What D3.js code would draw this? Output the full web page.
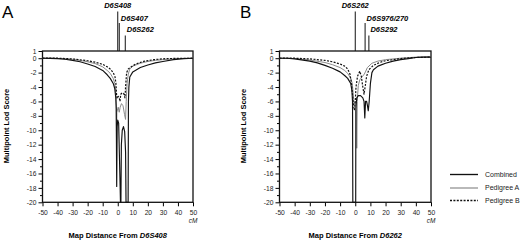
<!DOCTYPE html>
<html>
<head>
<meta charset="utf-8">
<script src="https://cdn.jsdelivr.net/npm/d3@7"></script>
<style>
  body { margin: 0; background: #fff; }
  svg { display: block; font-family: "Liberation Sans", Arial, sans-serif; }
  .axis path, .axis line { stroke: #000; }
  .axis text { fill: #222; font-size: 6.7px; }
</style>
</head>
<body>
<svg id="chart" width="520" height="240"></svg>
<script>
// [cM, lod] pairs
var combinedA = [[-50,0],[-45,-0.02],[-40,-0.05],[-35,-0.15],[-30,-0.3],[-25,-0.5],[-20,-0.8],[-15,-1.15],[-10,-1.7],[-7,-2.3],[-5,-2.8],[-3,-3.5],[-2,-4.2],[-1.3,-5.5],[-1,-7],[-0.7,-17.8],[-0.4,-9.5],[0,-8.6],[0.6,-9],[1.5,-17],[1.8,-20],[2.1,-20],[2.4,-12],[3,-10],[3.8,-9.5],[4.6,-10.2],[5.2,-13],[5.5,-20],[6.9,-20],[7.1,-6],[7.4,-4],[8,-2.6],[10,-1.9],[15,-1.3],[20,-0.95],[25,-0.65],[30,-0.45],[37,-0.2],[44,-0.05],[50,0]];
var pedAA = [[-50,0],[-40,-0.03],[-30,-0.15],[-25,-0.3],[-20,-0.5],[-15,-0.75],[-10,-1.2],[-7,-1.7],[-5,-2.1],[-3,-2.8],[-2,-3.5],[-1.3,-4.8],[-1,-6.5],[-0.8,-11.8],[-0.6,-7.5],[0.3,-6.8],[1,-7.5],[1.6,-6.8],[2.5,-6.3],[3.5,-6.6],[4.5,-7.8],[5.2,-8.5],[5.6,-6],[6.2,-3.5],[7,-2.2],[8,-1.5],[10,-1.1],[15,-0.7],[20,-0.45],[25,-0.3],[30,-0.2],[40,-0.05],[50,0]];
var pedBA = [[-50,0],[-40,0],[-30,-0.1],[-20,-0.35],[-15,-0.55],[-10,-0.85],[-7,-1.2],[-5,-1.5],[-3,-2],[-1.8,-2.6],[-1.2,-3.5],[-0.8,-5],[-0.4,-5.6],[0.3,-5.3],[1,-5.5],[1.5,-6],[2,-5],[3,-4.8],[4,-4.9],[4.8,-5.5],[5.2,-4],[5.9,-2],[7,-1.5],[9,-1.2],[12,-0.8],[17,-0.45],[24,-0.2],[32,-0.05],[50,0]];

var combinedB = [[-50,0],[-45,0],[-40,-0.1],[-30,-0.4],[-25,-0.65],[-20,-1],[-15,-1.4],[-10,-1.9],[-7,-2.4],[-5,-2.8],[-3,-3.5],[-2.2,-4.5],[-1.8,-6],[-1.6,-20],[0.3,-20],[0.4,-7],[1,-5.5],[2,-5.2],[3.5,-5.2],[5,-5.5],[5.8,-6],[6.3,-8.3],[6.8,-6],[7.5,-6],[8,-6.5],[8.6,-7.3],[9.2,-6],[10,-3.5],[11,-2],[12,-1.6],[15,-1.1],[20,-0.7],[25,-0.4],[30,-0.2],[35,-0.05],[40,0.1],[45,0.15],[50,0.15]];
var pedAB = [[-50,0],[-40,-0.05],[-30,-0.25],[-20,-0.6],[-15,-0.9],[-10,-1.3],[-7,-1.7],[-5,-2.1],[-3,-2.8],[-2,-3.5],[-1.3,-5],[-0.8,-6.5],[0,-6],[0.7,-7],[1,-12.5],[1.3,-6],[2,-3.8],[3,-3],[4.5,-2.6],[6,-2.2],[6.7,-1.9],[8,-1.3],[11,-0.7],[15,-0.4],[20,-0.2],[30,0],[40,0.15],[50,0.2]];
var pedBB = [[-50,0],[-40,0],[-30,-0.1],[-20,-0.3],[-15,-0.5],[-10,-0.8],[-7,-1.1],[-5,-1.5],[-3.5,-2.2],[-2.5,-3.5],[-1.8,-5],[-1.2,-6.5],[-0.6,-7.2],[0,-6],[0.5,-4],[1.5,-2.5],[3,-1.8],[4,-2.5],[5,-4],[5.8,-5],[6.5,-4],[7.5,-2.5],[9,-1.6],[12,-1],[16,-0.6],[20,-0.35],[30,-0.05],[40,0.1],[50,0.15]];

var markersA = [{name: "D6S408", pos: 0}, {name: "D6S407", pos: 1}, {name: "D6S262", pos: 5}];
var markersB = [{name: "D6S262", pos: 0}, {name: "D6S976/270", pos: 6.5}, {name: "D6S292", pos: 9}];

var xTicks = [-50, -40, -30, -20, -10, 0, 10, 20, 30, 40, 50];
var yTicks = [1, 0, -2, -4, -6, -8, -10, -12, -14, -16, -18, -20];
var yMinor = [-1, -3, -5, -7, -9, -11, -13, -15, -17, -19];
var legendNames = ["Combined", "Pedigree A", "Pedigree B"];

var styles = [
	{stroke: "#111", width: 1.15, dash: null},
	{stroke: "#8a8a8a", width: 1, dash: null},
	{stroke: "#111", width: 1.2, dash: "2,1.4"}
];

var svg = d3.select("#chart");

function drawPanel(opt) {
	var x = d3.scaleLinear().domain([-50, 50]).range([opt.left, opt.right]);
	var y = d3.scaleLinear().domain([-20, 1]).range([202.3, 51]);
	var g = svg.append("g");

	// panel letter
	g.append("text").attr("x", opt.letterX).attr("y", 18)
		.style("font-size", "17px").text(opt.letter);

	// marker lines and labels
	var labelY = [7.5, 20.5, 32];
	var lineTop = [11.5, 23, 35.5];
	opt.markers.forEach(function(m, i) {
		g.append("line")
			.attr("x1", x(m.pos)).attr("x2", x(m.pos))
			.attr("y1", lineTop[i]).attr("y2", y(1))
			.attr("stroke", "#111").attr("stroke-width", 1);
		g.append("text")
			.attr("x", i == 0 ? x(m.pos) : x(m.pos) + 1.5)
			.attr("y", labelY[i])
			.attr("text-anchor", i == 0 ? "middle" : "start")
			.style("font-size", "7.5px").style("font-weight", "bold").style("font-style", "italic")
			.text(m.name);
	});

	// axes
	var axisY = d3.axisLeft(y).tickValues(yTicks).tickSize(4).tickPadding(2)
		.tickFormat(function(d) { return String(d); });
	g.append("g").attr("class", "axis").attr("transform", "translate(" + opt.left + ",0)")
		.call(axisY);
	g.append("g").attr("class", "axis").attr("transform", "translate(" + opt.left + ",0)")
		.call(d3.axisLeft(y).tickValues(yMinor).tickSize(2.5).tickFormat(""));
	var axisX = d3.axisBottom(x).tickValues(xTicks).tickSize(4).tickPadding(3.5)
		.tickFormat(function(d) { return String(d); });
	g.append("g").attr("class", "axis").attr("transform", "translate(0,202.3)")
		.call(axisX);
	g.selectAll(".axis .domain").remove();

	// frame
	g.append("rect")
		.attr("x", opt.left).attr("y", y(1))
		.attr("width", opt.right - opt.left).attr("height", y(-20) - y(1))
		.attr("fill", "none").attr("stroke", "#111").attr("stroke-width", 1.3);

	// curves
	var line = d3.line()
		.x(function(d) { return x(d[0]); })
		.y(function(d) { return y(d[1]); });
	[opt.series[1], opt.series[2], opt.series[0]].forEach(function(s, k) {
		var st = styles[[1, 2, 0][k]];
		g.append("path")
			.attr("d", line(s))
			.attr("fill", "none")
			.attr("stroke", st.stroke)
			.attr("stroke-width", st.width)
			.attr("stroke-dasharray", st.dash)
			.attr("stroke-linejoin", "round");
	});

	// cM unit
	g.append("text").attr("x", x(50)).attr("y", 223).attr("text-anchor", "middle")
		.style("font-size", "6.5px").style("font-style", "italic").attr("fill", "#222").text("cM");

	// x title
	var t = g.append("text").attr("x", (opt.left + opt.right) / 2).attr("y", 237.5)
		.attr("text-anchor", "middle")
		.style("font-size", "7.5px").style("font-weight", "bold");
	t.append("tspan").text("Map Distance From ");
	t.append("tspan").style("font-style", "italic").text(opt.from);

	// y title
	g.append("text")
		.attr("transform", "translate(" + (opt.left - 34) + ",126) rotate(-90)")
		.attr("text-anchor", "middle")
		.style("font-size", "7.5px").style("font-weight", "bold")
		.text("Multipoint Lod Score");
}

drawPanel({letter: "A", letterX: 2, left: 42.5, right: 193, markers: markersA,
	series: [combinedA, pedAA, pedBA], from: "D6S408"});
drawPanel({letter: "B", letterX: 240, left: 279.5, right: 431, markers: markersB,
	series: [combinedB, pedAB, pedBB], from: "D6262"});

// legend
var legendY = [174.5, 188, 200.5];
legendNames.forEach(function(name, i) {
	var st = styles[i];
	svg.append("line")
		.attr("x1", 450).attr("x2", 478)
		.attr("y1", legendY[i]).attr("y2", legendY[i])
		.attr("stroke", st.stroke).attr("stroke-width", st.width + 0.2)
		.attr("stroke-dasharray", st.dash);
	svg.append("text").attr("x", 485).attr("y", legendY[i] + 2.3)
		.style("font-size", "7px").attr("fill", "#222").text(name);
});
</script>
</body>
</html>
